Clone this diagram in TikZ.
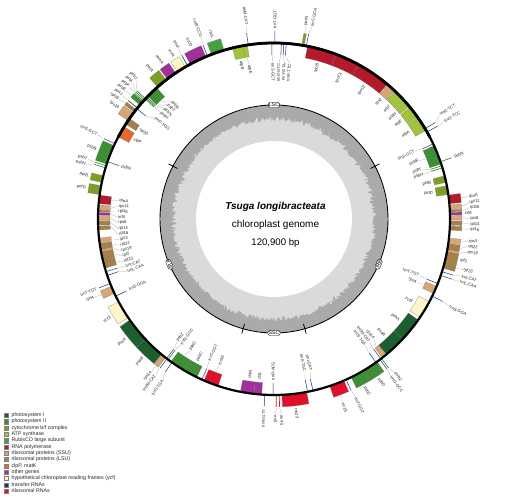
\documentclass[tikz,border=0pt]{standalone}
\usepackage{fontspec}
\setmainfont{Liberation Sans}
\definecolor{psi}{HTML}{1D5E2F}
\definecolor{psii}{HTML}{3E8E36}
\definecolor{cyt}{HTML}{7F9E25}
\definecolor{atp}{HTML}{A3C43A}
\definecolor{rbc}{HTML}{45A041}
\definecolor{rnap}{HTML}{B5192C}
\definecolor{ssu}{HTML}{D8A674}
\definecolor{lsu}{HTML}{A5804B}
\definecolor{clp}{HTML}{E4692A}
\definecolor{other}{HTML}{A2309A}
\definecolor{ycf}{HTML}{FFF5C8}
\definecolor{trna}{HTML}{1F2F80}
\definecolor{rrna}{HTML}{E0102A}
\definecolor{gcdark}{HTML}{AAAAAA}
\definecolor{gclight}{HTML}{DADADA}

% label placement: #1 feature angle, #2 label angle, #3 side (1 out, -1 in), #4 text
\newcommand\Glab[4]{%
  \pgfmathsetmacro\Gdd{abs((#2)-(#1))}%
  \pgfmathsetmacro\Gs{#3}%
  \ifdim\Gdd pt<0.05pt
    \pgfmathsetmacro\Glr{\Gs>0 ? 190.5 : 161.5}%
  \else
    \pgfmathsetmacro\Gla{\Gs>0 ? 189 : 163}%
    \pgfmathsetmacro\Glb{\Gs>0 ? 195.5 : 156.5}%
    \draw[leader] (#1:\Gla pt) -- (#2:\Glb pt);%
    \pgfmathsetmacro\Glr{\Gs>0 ? 196 : 156}%
  \fi
  \pgfmathsetmacro\Gc{cos(#2)}%
  \ifdim\Gc pt<-0.001pt
    \pgfmathsetmacro\Grot{(#2)+180}%
    \ifdim\Gs pt>0pt \def\Ganc{east}\else\def\Ganc{west}\fi
  \else
    \pgfmathsetmacro\Grot{#2}%
    \ifdim\Gs pt>0pt \def\Ganc{west}\else\def\Ganc{east}\fi
  \fi
  \node[glab, rotate=\Grot, anchor=\Ganc] at (#2:\Glr pt) {#4};%
}
% gene box: #1 a1, #2 a2, #3 side, #4 colour, #5 text, #6 label angle
\newcommand\Gbox[6]{%
  \pgfmathsetmacro\Gra{(#3)>0 ? 176 : 164}%
  \pgfmathsetmacro\Grb{\Gra+12}%
  \filldraw[gbox, fill=#4] (#1:\Gra pt) arc[start angle=#1, end angle=#2, radius=\Gra pt]
    -- (#2:\Grb pt) arc[start angle=#2, end angle=#1, radius=\Grb pt] -- cycle;%
  \pgfmathsetmacro\GM{((#1)+(#2))/2}%
  \Glab{\GM}{#6}{#3}{#5}%
}
% tRNA: #1 angle, #2 side, #3 text, #4 label angle
\newcommand\Gtrna[4]{%
  \pgfmathsetmacro\Gra{(#2)>0 ? 176 : 164}%
  \pgfmathsetmacro\Grb{\Gra+12}%
  \draw[trline] (#1:\Gra pt) -- (#1:\Grb pt);%
  \Glab{#1}{#4}{#2}{#3}%
}
% small gene drawn as a line: #1 angle, #2 side, #3 colour, #4 text, #5 label angle
\newcommand\Gline[5]{%
  \pgfmathsetmacro\Gra{(#2)>0 ? 176 : 164}%
  \pgfmathsetmacro\Grb{\Gra+12}%
  \draw[line width=0.7pt, draw=#3] (#1:\Gra pt) -- (#1:\Grb pt);%
  \Glab{#1}{#5}{#2}{#4}%
}
% inverted repeat features: drawn in IRB and mirrored into IRA
% last argument: label angle of the mirrored copy, given in IRB terms
\newcommand\IRbox[7]{\Gbox{#1}{#2}{#3}{#4}{#5}{#6}%
  \pgfmathsetmacro\Ma{-180-(#2)}\pgfmathsetmacro\Mb{-180-(#1)}%
  \pgfmathsetmacro\Ml{-180-(#7)}\pgfmathsetmacro\Ms{-(#3)}%
  \Gbox{\Ma}{\Mb}{\Ms}{#4}{#5}{\Ml}}
\newcommand\IRtrna[5]{\Gtrna{#1}{#2}{#3}{#4}%
  \pgfmathsetmacro\Ma{-180-(#1)}\pgfmathsetmacro\Ml{-180-(#5)}\pgfmathsetmacro\Ms{-(#2)}%
  \Gtrna{\Ma}{\Ms}{#3}{\Ml}}
\newcommand\IRline[6]{\Gline{#1}{#2}{#3}{#4}{#5}%
  \pgfmathsetmacro\Ma{-180-(#1)}\pgfmathsetmacro\Ml{-180-(#6)}\pgfmathsetmacro\Ms{-(#2)}%
  \Gline{\Ma}{\Ms}{#3}{#4}{\Ml}}

\begin{document}
\begin{tikzpicture}[x=1pt,y=1pt,
  glab/.style={font=\fontsize{4.2}{4.2}\selectfont, inner sep=0.1pt, text=black!85},
  leader/.style={draw=black!40, line width=0.2pt},
  gbox/.style={draw=black!55, line width=0.15pt},
  trline/.style={draw=trna, line width=0.5pt},
  seglab/.style={draw=black, line width=0.35pt, fill=white, rounded corners=1.5pt,
    inner sep=0.8pt, font=\fontsize{5}{5}\selectfont},
  legsq/.style={draw=black!50, line width=0.2pt, minimum size=4.2pt, inner sep=0pt},
  legtxt/.style={font=\fontsize{5.3}{5.3}\selectfont, inner sep=0pt, anchor=west, text=black!85}]
\useasboundingbox (-274,-284) rectangle (235,219);

% ---------------- GC content ring ----------------
\fill[gcdark] (0,0) circle[radius=113.5pt];
\pgfmathsetseed{11}
\fill[gclight] plot[domain=0:359.5, samples=720, variable=\t] ({\t}:{100+6*(rnd-0.5)}) -- cycle;
\fill[white] (0,0) circle[radius=78pt];
\draw[line width=0.9pt] (0,0) circle[radius=114pt];
\foreach \a in {27.6,152.4,-74.3,-105.7}
  \draw[line width=0.8pt] (\a:109pt) -- (\a:119pt);
\node[seglab] (lsc) at (90:114pt) {LSC};
\node[seglab, rotate=66.6] (irb) at (-23.4:114pt) {IRB};
\node[seglab, rotate=113.4] (ira) at (203.4:114pt) {IRA};
\node[seglab] (ssc) at (-90:114pt) {SSC};

% ---------------- title ----------------
\node (title) at (1.5,12.3) {\fontsize{10}{12}\selectfont\bfseries\itshape Tsuga longibracteata};
\node (sub) at (1.5,-6) {\fontsize{10}{12}\selectfont chloroplast genome};
\node (size) at (1.5,-23.7) {\fontsize{9.6}{12}\selectfont 120,900 bp};

% ---------------- LSC ----------------
\Gtrna{30.9}{1}{trnR-TCT}{32.2}
\Gtrna{29.6}{1}{trnG-TCC}{29.8}
\Gbox{30.3}{35.3}{-1}{atp}{atpA}{32.8}
\Gbox{35.6}{39.4}{-1}{atp}{atpF}{37.5}
\Gbox{39.8}{41.9}{-1}{atp}{atpH}{40.85}
\Gbox{42.2}{46.4}{-1}{atp}{atpI}{44.3}
\Gbox{46.7}{49.7}{-1}{ssu}{rps2}{48.2}
\Gbox{50}{61.3}{-1}{rnap}{rpoC2}{55.65}
\Gbox{61.3}{69.4}{-1}{rnap}{rpoC1}{65.35}
\Gbox{69.4}{79}{-1}{rnap}{rpoB}{74.2}
\Gtrna{79.4}{1}{trnC-GCA}{78.8}
\Gbox{80.1}{80.9}{1}{cyt}{petN}{80.7}
\Gtrna{86.0}{-1}{trnE-TTC}{84.2}
\Gtrna{86.8}{-1}{trnY-GTA}{86.2}
\Gtrna{87.6}{-1}{trnD-GTC}{88.2}
\Gtrna{90.7}{-1}{trnS-GCT}{90.4}
\Gtrna{89.7}{1}{trnT-GGT}{89.7}
\Gtrna{98.4}{1}{trnM-CAT}{98.0}
\Gbox{98.7}{100.2}{-1}{atp}{atpE}{99.2}
\Gbox{100.2}{103.6}{-1}{atp}{atpB}{101.9}
\Gbox{106.5}{110.8}{1}{rbc}{rbcL}{108.65}
\Gtrna{112.2}{1}{trnR-CCG}{111.8}
\Gbox{112.8}{118.4}{1}{other}{accD}{115.6}
\Gline{119.4}{1}{psi}{psaI}{119.2}
\Gbox{120.3}{123.3}{1}{ycf}{ycf4}{121.8}
\Gbox{124}{127.3}{1}{other}{cemA}{125.65}
\Gbox{127.8}{131.4}{1}{cyt}{petA}{129.6}
\Gline{136.9}{1}{psii}{psbJ}{134.4}
\Gline{137.4}{1}{psii}{psbL}{136.0}
\Gline{137.9}{1}{psii}{psbF}{137.6}
\Gbox{138.2}{139.6}{1}{psii}{psbE}{139.2}
\Gline{140.9}{1}{psi}{psaJ}{140.8}
\Gbox{141.6}{142.6}{1}{lsu}{rpl33}{142.4}
\Gbox{143.0}{146}{1}{ssu}{rps18}{144.5}
\Gbox{131.8}{135.8}{-1}{psii}{psbB}{131.0}
\Gline{136.2}{-1}{psii}{psbT}{132.9}
\Gline{136.6}{-1}{psii}{psbN}{134.8}
\Gline{137.0}{-1}{psii}{psbH}{136.7}
\Gtrna{141.2}{-1}{trnP-TGG}{139.6}
\Gbox{145.2}{147.4}{-1}{lsu}{rpl20}{146.3}
\Gbox{148.4}{152.2}{-1}{clp}{clpP}{150.3}

% ---------------- inverted repeats (IRB, mirrored to IRA) ----------------
\IRtrna{25.3}{-1}{trnS-GCT}{25.8}{25.6}
\IRbox{18.2}{24.6}{-1}{psii}{psbB}{22.0}{21.4}
\IRline{19.0}{1}{psii}{psbN}{19.0}{19.0}
\IRline{17.6}{-1}{psii}{psbT}{18.6}{17.8}
\IRline{16.9}{-1}{psii}{psbH}{16.6}{16.2}
\IRbox{12.0}{14.2}{-1}{cyt}{petB}{13.1}{13.1}
\IRbox{8.0}{10.9}{-1}{cyt}{petD}{9.45}{9.45}
\IRbox{5.0}{7.8}{1}{rnap}{rpoA}{6.6}{6.8}
\IRbox{3.0}{4.6}{1}{ssu}{rps11}{4.9}{4.75}
\IRbox{2.3}{2.9}{1}{lsu}{rpl36}{3.3}{2.7}
\IRbox{1.3}{2.1}{1}{other}{infA}{1.7}{0.65}
\IRbox{-0.3}{1.1}{1}{ssu}{rps8}{0.1}{-1.4}
\IRbox{-2.0}{-0.6}{1}{lsu}{rpl14}{-1.5}{-3.45}
\IRbox{-3.6}{-2.3}{1}{lsu}{rpl16}{-3.1}{-5.5}
\IRbox{-7.8}{-6.2}{1}{ssu}{rps3}{-6.5}{-7.55}
\IRbox{-10.0}{-8.0}{1}{lsu}{rpl22}{-8.1}{-9.6}
\IRbox{-10.8}{-10.1}{1}{ssu}{rps19}{-9.7}{-11.6}
\IRbox{-14.1}{-10.8}{1}{lsu}{rpl2}{-12.45}{-13.6}
\IRbox{-16.2}{-14.1}{1}{lsu}{rpl23}{-15.0}{-15.65}
\IRtrna{-17.4}{1}{trnI-CAT}{-17.0}{-17.7}
\IRtrna{-18.7}{1}{trnL-CAA}{-18.6}{-19.7}
\IRtrna{-21.5}{-1}{trnT-TGT}{-21.3}{-21.5}
\IRbox{-22.5}{-25}{-1}{ssu}{rps4}{-24.0}{-23.5}
\IRtrna{-26}{1}{trnS-GGA}{-26.5}{-26.0}
\IRbox{-28}{-34}{-1}{ycf}{ycf3}{-31}{-31}
\IRbox{-35}{-43}{-1}{psi}{psaA}{-39}{-39}
\IRbox{-43}{-50.3}{-1}{psi}{psaB}{-46.65}{-46.65}
\IRbox{-50.5}{-52}{-1}{ssu}{rps14}{-50.2}{-51.2}
\IRtrna{-52.6}{-1}{trnfM-CAT}{-52.2}{-52.7}
\IRline{-52.4}{1}{psii}{psbZ}{-51.8}{-51.6}
\IRtrna{-53.0}{1}{trnG-GCC}{-53.4}{-53.5}
\IRtrna{-54.6}{-1}{trnS-TGA}{-54.2}{-55.4}
\IRbox{-54.2}{-59.2}{1}{psii}{psbD}{-56.7}{-57.4}
\IRbox{-59.2}{-64}{1}{psii}{psbC}{-61.6}{-61.6}
\IRtrna{-65.8}{1}{trnT-GGT}{-65.4}{-65.4}
\IRbox{-66.6}{-71.5}{1}{rrna}{rrn16}{-69.5}{-69.5}

% ---------------- SSC ----------------
\Gtrna{-77.2}{-1}{trnI-GAT}{-76.3}
\Gtrna{-79.0}{-1}{trnA-TGC}{-78.6}
\Gbox{-79.3}{-87.4}{1}{rrna}{rrn23}{-83.35}
\Gline{-88.3}{1}{rrna}{rrn4.5}{-87.8}
\Gline{-89.3}{1}{rrna}{rrn5}{-89.6}
\Gtrna{-90.3}{-1}{trnR-ACG}{-90.3}
\Gtrna{-93}{1}{trnN-GTT}{-93}
\Gbox{-94}{-96.6}{-1}{other}{chlL}{-95.3}
\Gbox{-96.6}{-101}{-1}{other}{chlN}{-98.8}

% ---------------- genome circle ----------------
\draw[line width=2.2pt] (0,0) circle[radius=176pt];
\draw[line width=2.8pt] (27.6:176pt) arc[start angle=27.6, end angle=152.4, radius=176pt];

% ---------------- legend ----------------
\foreach [count=\i from 0] \c/\t in {psi/{photosystem I}, psii/{photosystem II},
   cyt/{cytochrome b/f complex}, atp/{ATP synthase}, rbc/{RubisCO large subunit},
   rnap/{RNA polymerase}, ssu/{ribosomal proteins (SSU)}, lsu/{ribosomal proteins (LSU)},
   clp/{clpP, matK}, other/{other genes}, ycf/{hypothetical chloroplast reading frames (ycf)},
   trna/{transfer RNAs}, rrna/{ribosomal RNAs}} {
  \node[legsq, fill=\c] (sq\i) at (-267.8, {-196.3-6.31*\i}) {};
  \node[legtxt] (lt\i) at (-262.6, {-196.3-6.31*\i}) {\t};
}
\end{tikzpicture}
\end{document}
